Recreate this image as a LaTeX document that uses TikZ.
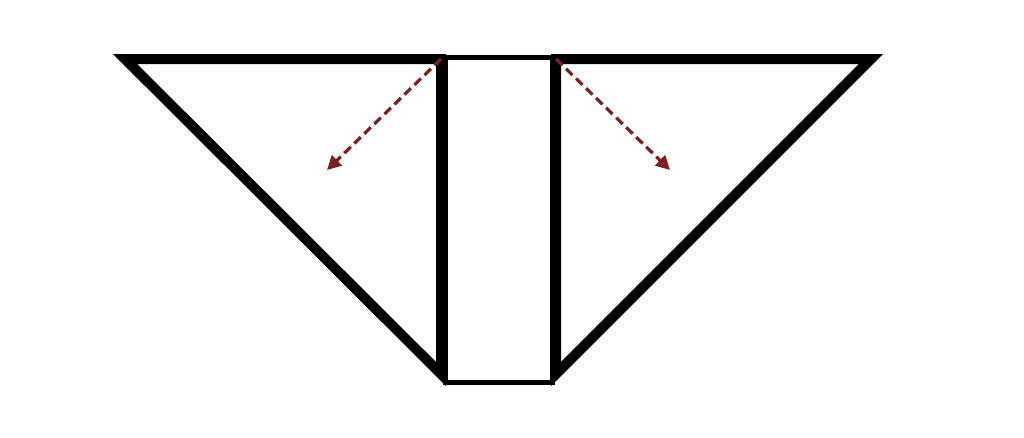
\documentclass[tikz,border=0pt]{standalone}
\usetikzlibrary{arrows.meta}
\definecolor{arrowred}{HTML}{7B2020}
\tikzset{
  tri/.style={draw=black, line width=10pt, line join=miter},
  rectbox/.style={draw=black, line width=5pt},
  flowarrow/.style={draw=arrowred, line width=3.2pt, dash pattern=on 9pt off 5pt, -{Triangle[length=14pt,width=14pt]}}
}
\begin{document}
\begin{tikzpicture}[x=1pt,y=-1pt]
\useasboundingbox[fill=white] (0,0) rectangle (1024,437);
\coordinate (LA) at (125,59);
\coordinate (LB) at (441,59);
\coordinate (LC) at (441,374);
\coordinate (RA) at (871,59);
\coordinate (RB) at (556,59);
\coordinate (RC) at (556,374);
\coordinate (LT) at (327,170);
\coordinate (RT) at (670,170);
\draw[tri] (LA) -- (LB) -- (LC) -- cycle;
\draw[tri] (RA) -- (RB) -- (RC) -- cycle;
\draw[rectbox] (445,57) rectangle (552,382);
\draw[flowarrow] (LB) -- (LT);
\draw[flowarrow] (RB) -- (RT);
\end{tikzpicture}
\end{document}
